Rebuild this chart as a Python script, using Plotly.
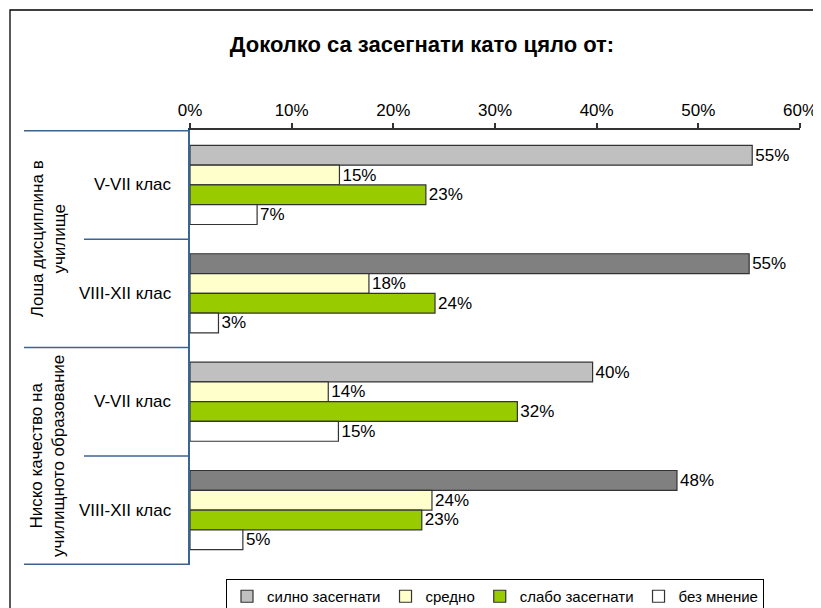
import plotly.graph_objects as go

# ---- data ----
categories = ["Лоша дисциплина | V-VII клас", "Лоша дисциплина | VIII-XII клас",
              "Ниско качество | V-VII клас", "Ниско качество | VIII-XII клас"]
inner_labels = ["V-VII клас", "VIII-XII клас", "V-VII клас", "VIII-XII клас"]
outer_labels = ["Лоша дисциплина в<br>училище", "Ниско качество на<br>училищното образование"]
series_names = ["силно засегнати", "средно", "слабо засегнати", "без мнение"]
silno = [55.3, 55.0, 39.6, 47.9]
sredno = [14.7, 17.6, 13.6, 23.8]
slabo = [23.2, 24.1, 32.2, 22.8]
bez = [6.6, 2.8, 14.6, 5.2]
tick_vals = [0, 10, 20, 30, 40, 50, 60]
tick_text = ["0%", "10%", "20%", "30%", "40%", "50%", "60%"]
title_text = "Доколко са засегнати като цяло от:"

FONT = "Liberation Sans, Arial, sans-serif"
silno_colors = ["#C0C0C0", "#808080", "#C0C0C0", "#808080"]
series_colors = [silno_colors, "#FFFFCC", "#99CC00", "#FFFFFF"]
series_values = [silno, sredno, slabo, bez]

# page offset of the plot div (body margin) is 8px
L, T, PW, PH = 182, 122, 610, 435
W, H = 821, 608

fig = go.Figure()
for name, vals, col in zip(series_names, series_values, series_colors):
    fig.add_trace(go.Bar(
        y=categories, x=vals, name=name, orientation="h",
        marker=dict(color=col, line=dict(color="#333333", width=1.2)),
        texttemplate="%{x:.0f}%", textposition="outside",
        textfont=dict(family=FONT, size=17, color="#000000"),
        cliponaxis=False,
    ))

AX_BLUE = "#3B6493"
shapes = []
# outer dividers
for yb in [-0.5, 1.5, 3.5]:
    shapes.append(dict(type="line", xref="paper", yref="y", x0=(24 - 190) / PW, x1=0, y0=yb, y1=yb,
                       line=dict(color=AX_BLUE, width=1.5)))
# inner dividers
for yb in [0.5, 2.5]:
    shapes.append(dict(type="line", xref="paper", yref="y", x0=(84 - 190) / PW, x1=0, y0=yb, y1=yb,
                       line=dict(color=AX_BLUE, width=1.5)))
# chart frame
shapes.append(dict(type="rect", xref="paper", yref="paper", x0=(10 - 190) / PW, x1=1.2,
                   y0=-0.5, y1=1 + (130 - 10) / PH,
                   line=dict(color="#000000", width=1.3), fillcolor="rgba(0,0,0,0)"))

annotations = []
for cat, lab in zip(categories, inner_labels):
    annotations.append(dict(xref="paper", yref="y", x=(174 - 190) / PW, y=cat, text=lab, showarrow=False,
                            xanchor="right", yanchor="middle",
                            font=dict(family=FONT, size=17, color="#000000")))
for i, lab in enumerate(outer_labels):
    annotations.append(dict(xref="paper", yref="y", x=(48 - 190) / PW, y=2 * i + 0.5, text=lab,
                            showarrow=False, textangle=-90, xanchor="center", yanchor="middle",
                            font=dict(family=FONT, size=17, color="#000000")))

fig.update_layout(
    width=W, height=H,
    margin=dict(l=L, r=W - L - PW, t=T, b=H - T - PH, autoexpand=False),
    paper_bgcolor="#FFFFFF", plot_bgcolor="#FFFFFF",
    barmode="group", bargap=0.27, bargroupgap=0,
    title=dict(text="<b>" + title_text + "</b>", x=(422 - 8) / W, xanchor="center",
               y=1 - (44 - 8) / H, yanchor="middle",
               font=dict(family=FONT, size=22, color="#000000")),
    xaxis=dict(side="top", range=[0, 60], tickvals=tick_vals, ticktext=tick_text,
               showgrid=False, zeroline=False, showline=True, linecolor="#333333", linewidth=1.5,
               ticks="outside", ticklen=5, tickcolor="#333333", tickwidth=1.5,
               tickfont=dict(family=FONT, size=17, color="#000000"), fixedrange=True),
    yaxis=dict(autorange="reversed", showticklabels=False, showgrid=False, zeroline=False,
               showline=True, linecolor=AX_BLUE, linewidth=1.5, ticks="", fixedrange=True),
    legend=dict(orientation="h", x=0.5, xanchor="center", y=-(579 - 565) / PH, yanchor="top",
                bordercolor="#000000", borderwidth=1, bgcolor="#FFFFFF",
                font=dict(family=FONT, size=15, color="#000000"),
                itemwidth=30, traceorder="normal", tracegroupgap=0),
    shapes=shapes, annotations=annotations,
    showlegend=True,
)

fig.write_html("out.html")
